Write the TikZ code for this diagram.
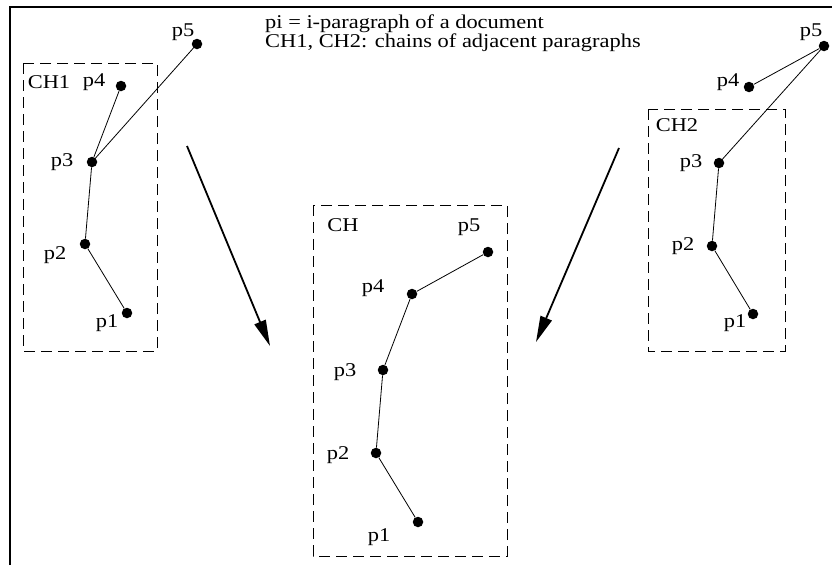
\documentclass[tikz,border=0pt]{standalone}
\usepackage{fontspec}
\setmainfont{Liberation Serif}[FakeStretch=1.15]
\usetikzlibrary{arrows.meta}

\begin{document}
\begin{tikzpicture}[x=1pt, y=-1pt,
    para/.style={circle, fill=black, inner sep=0pt, minimum size=10.5pt},
    plabel/.style={font=\fontsize{19.5}{18.5}\selectfont, inner sep=0pt},
    chainbox/.style={draw=black, dash pattern=on 11pt off 6pt, line width=0.9pt},
    link/.style={line width=0.8pt},
    arrow/.style={-{Triangle[length=26pt, width=12pt]}, line width=1.8pt},
]
\useasboundingbox (0,0) rectangle (832,565);
% frame
\draw[line width=2pt] (10,565) -- (10,7) -- (832,7);

% legend
\node[plabel, anchor=base west, align=left] (legend) at (265,47) {pi = i-paragraph of a document\\CH1, CH2: chains of adjacent paragraphs};

% Chain CH1
\draw[chainbox] (23,63) rectangle (157,351);
\node[plabel] (ch1) at (49,82) {CH1};
\node[para] (a1) at (127,313) {};
\node[para] (a2) at (85,244) {};
\node[para] (a3) at (92,162) {};
\node[para] (a4) at (121,86) {};
\node[para] (a5) at (197,44) {};
\node[plabel] at (107,323) {p1};
\node[plabel] at (55,255) {p2};
\node[plabel] at (62,162) {p3};
\node[plabel] at (94,82) {p4};
\node[plabel] at (183,32) {p5};
\draw[link] (a1) -- (a2) -- (a3) -- (a4);
\draw[link] (a3) -- (a5);

% Chain CH2
\draw[chainbox] (648,109) rectangle (785,351);
\node[plabel] (ch2) at (677,125) {CH2};
\node[para] (b1) at (753,314) {};
\node[para] (b2) at (712,246) {};
\node[para] (b3) at (719,163) {};
\node[para] (b4) at (749,87) {};
\node[para] (b5) at (824,46) {};
\node[plabel] at (735,323) {p1};
\node[plabel] at (683,246) {p2};
\node[plabel] at (691,163) {p3};
\node[plabel] at (728,82) {p4};
\node[plabel] at (811,32) {p5};
\draw[link] (b1) -- (b2) -- (b3) -- (b5) -- (b4);

% merged chain CH
\draw[chainbox] (313,205) rectangle (507,556);
\node[plabel] (ch) at (343,225) {CH};
\node[para] (c1) at (418,522) {};
\node[para] (c2) at (376,453) {};
\node[para] (c3) at (383,370) {};
\node[para] (c4) at (412,294) {};
\node[para] (c5) at (488,252) {};
\node[plabel] at (379,537) {p1};
\node[plabel] at (338,455) {p2};
\node[plabel] at (345,372) {p3};
\node[plabel] at (373,288) {p4};
\node[plabel] at (469,227) {p5};
\draw[link] (c1) -- (c2) -- (c3) -- (c4) -- (c5);

% merge arrows
\coordinate (from1) at (187,146);
\coordinate (to1) at (270,346);
\coordinate (from2) at (619,148);
\coordinate (to2) at (536,342);
\draw[arrow] (from1) -- (to1);
\draw[arrow] (from2) -- (to2);
\end{tikzpicture}
\end{document}
